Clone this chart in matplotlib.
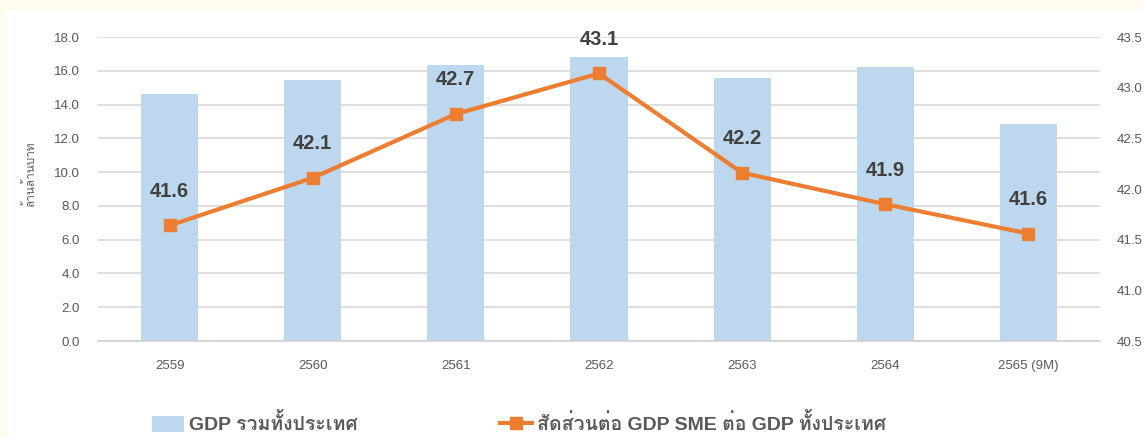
import numpy as np
import matplotlib
matplotlib.use("Agg")
import matplotlib.pyplot as plt
from matplotlib import font_manager, ft2font
from matplotlib.lines import Line2D
from matplotlib.patches import Patch

# Data
years = ['2559', '2560', '2561', '2562', '2563', '2564', '2565 (9M)']
gdp_total = [14.6, 15.45, 16.35, 16.8, 15.6, 16.2, 12.85]
sme_share = [41.64, 42.11, 42.74, 43.14, 42.16, 41.85, 41.56]
legend_labels = ['GDP รวมทั้งประเทศ', 'สัดส่วนต่อ GDP SME ต่อ GDP ทั้งประเทศ']

bar_color = '#BDD7EE'
line_color = '#ED7D31'
tick_color = '#595959'
label_color = '#404040'

# look for any installed family that has Thai glyphs
thai_families = []
for f in font_manager.fontManager.ttflist:
    try:
        cmap = ft2font.FT2Font(f.fname).get_charmap()
    except Exception:
        continue
    if 0x0E01 in cmap and 0x0E49 in cmap and f.name not in thai_families:
        thai_families.append(f.name)

plt.rcParams['font.family'] = ['Liberation Sans'] + thai_families + ['DejaVu Sans']

W, H = 1144, 437
fig = plt.figure(figsize=(W / 100, H / 100), dpi=100, facecolor='#FFFBEE')
# white chart panel
panel = plt.Rectangle((7 / W, 0), 1, 1 - 10 / H, transform=fig.transFigure,
                      color='white', zorder=-5)
fig.patches.append(panel)

ax = fig.add_axes([98 / W, 1 - 341 / H, 1002 / W, 304 / H])
ax.set_facecolor('none')
x = np.arange(len(years))

ax.bar(x, gdp_total, width=0.4, color=bar_color, zorder=2)
ax.set_xlim(-0.5, len(years) - 0.5)
ax.set_ylim(0, 18)
ax.set_yticks(np.arange(0, 18.1, 2))
ax.set_yticklabels([f'{v:.1f}' for v in np.arange(0, 18.1, 2)])
ax.set_xticks(x)
ax.set_xticklabels(years)
ax.grid(axis='y', color='#D9D9D9', linewidth=1.2, zorder=0)
ax.set_axisbelow(True)
for s in ['top', 'right', 'left']:
    ax.spines[s].set_visible(False)
ax.spines['bottom'].set_color('#D0D0D0')
ax.spines['bottom'].set_linewidth(1.2)
ax.tick_params(axis='both', length=0, colors=tick_color, labelsize=9.5)
ax.tick_params(axis='x', pad=14)
ax.tick_params(axis='y', pad=13)
ax.set_ylabel('ล้านล้านบาท', color=tick_color, fontsize=8.5)
ax.yaxis.set_label_coords(-0.061, 0.55)

ax2 = ax.twinx()
ax2.plot(x, sme_share, color=line_color, linewidth=3, marker='s', markersize=9,
         zorder=3)
ax2.set_ylim(40.5, 43.5)
ax2.set_yticks(np.arange(40.5, 43.51, 0.5))
ax2.set_yticklabels([f'{v:.1f}' for v in np.arange(40.5, 43.51, 0.5)])
for s in ['top', 'right', 'left', 'bottom']:
    ax2.spines[s].set_visible(False)
ax2.tick_params(axis='y', length=0, colors=tick_color, labelsize=9.5, pad=12)

for xi, v in zip(x, sme_share):
    ax2.annotate(f'{v:.1f}', (xi, v), xytext=(0, 24.5), textcoords='offset points',
                 ha='center', va='center', fontsize=14.5, fontweight='bold',
                 color=label_color)

handles = [Patch(facecolor=bar_color, edgecolor='none'),
           Line2D([], [], color=line_color, linewidth=3, marker='s', markersize=9)]
for handle, text, left in zip(handles, legend_labels, [152, 500]):
    leg = fig.legend([handle], [text], loc='center left',
                     bbox_to_anchor=(left / W, 1 - 424 / H),
                     frameon=False, borderpad=0, borderaxespad=0,
                     handlelength=1.65, handleheight=0.85, handletextpad=0.25,
                     labelcolor=tick_color, prop={'weight': 'bold', 'size': 14})

fig.savefig('out.png', dpi=100, facecolor=fig.get_facecolor())
